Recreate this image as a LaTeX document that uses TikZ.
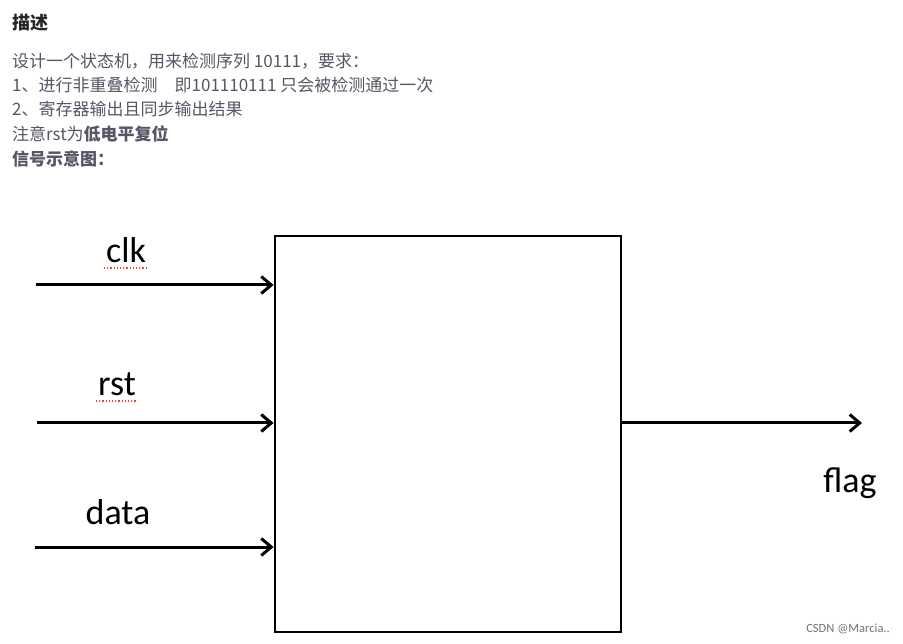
\documentclass[tikz,border=0pt]{standalone}
\usepackage{fontspec}
\setmainfont{Carlito}
\newfontfamily\cjk{Noto Sans CJK SC}
\usetikzlibrary{arrows.meta}
\definecolor{txt}{HTML}{555666}
\tikzset{
  wire/.style={line width=3pt,-{Straight Barb[length=10pt,width=17pt,line width=3pt]}},
  desc/.style={anchor=west,inner sep=0pt,text=txt,font=\cjk\fontsize{17}{19}\selectfont},
  sig/.style={inner sep=0pt,font=\fontsize{36}{40}\selectfont},
  squig/.style={red!80,dotted,line width=1.2pt}
}
\begin{document}
\begin{tikzpicture}[x=1pt,y=-1pt]
\useasboundingbox (0,0) rectangle (903,644);
\node[desc,text=black!85,font=\cjk\bfseries\fontsize{18}{20}\selectfont] (t) at (12,23) {描述};
\node[desc] (l1) at (12,61) {设计一个状态机，用来检测序列 10111，要求：};
\node[desc] (l2) at (12,85) {1、进行非重叠检测\quad 即101110111 只会被检测通过一次};
\node[desc] (l3) at (12,109) {2、寄存器输出且同步输出结果};
\node[desc] (l4) at (12,134) {注意rst为\textbf{低电平复位}};
\node[desc] (l5) at (12,159) {\textbf{信号示意图：}};
\node[draw,line width=2.8pt,minimum width=346pt,minimum height=396pt,inner sep=0pt] (box) at (448,434) {};
\coordinate (c0) at (36,285);
\coordinate (r0) at (37,423);
\coordinate (d0) at (35,547);
\coordinate (f1) at (862,423);
\draw[wire] (c0) -- (box.west |- c0);
\draw[wire] (r0) -- (box.west |- r0);
\draw[wire] (d0) -- (box.west |- d0);
\draw[wire] (box.east |- f1) -- (f1);
\node[sig] (clk) at (126,250) {clk};
\node[sig] (rst) at (117,384) {rst};
\node[sig] (data) at (118,512) {data};
\node[sig] (flag) at (850,483) {flag};
\draw[squig] (104,268) -- (148,268);
\draw[squig] (96,401) -- (137,401);
\node[anchor=east,inner sep=0pt,text=black!55,font=\fontsize{12.5}{14}\selectfont] (wm) at (890,629) {CSDN @Marcia..};
\end{tikzpicture}
\end{document}
